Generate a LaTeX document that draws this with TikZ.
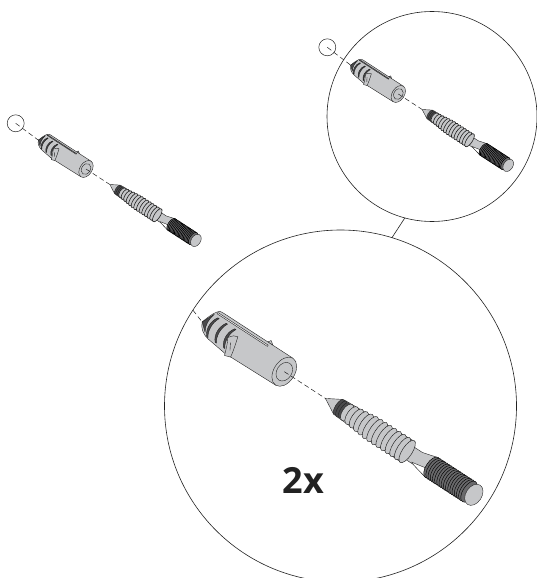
\documentclass[tikz,border=0pt]{standalone}
\usepackage{fontspec}
\newfontfamily\countfont{Open Sans}
\definecolor{partgray}{HTML}{C6C7C9}
\definecolor{ribgray}{HTML}{4A4A4C}
\definecolor{inkgray}{HTML}{222222}
\tikzset{
  partline/.style={draw=inkgray,line width=0.4pt,fill=partgray,line join=round},
  pics/plugscrew/.style={code={
    \coordinate (-rear) at (-96,3);
    \coordinate (-face) at (0,0);
    \coordinate (-tip) at (49,0);
    % plug
    \path[partline] (-30,-16) -- (-28,-19) -- (-24,-16) -- cycle;
    \path[partline] (0,-16) -- (-82,-16) .. controls (-88,-17) and (-91,-13) .. (-96,3)
      .. controls (-94,9) and (-88,13) .. (-82,14) -- (-60,17) -- (0,16) -- cycle;
    \path[partline,fill=ribgray] (-96,3) -- (-90,-10) .. controls (-92,-3) and (-92,4) .. (-88,10) -- cycle;
    \foreach \u in {-85,-75,-65}
      \path[partline,fill=ribgray] (\u,-9) .. controls (\u-5,-2) and (\u-4,8) .. (\u+1,13)
        -- (\u+2.5,13) .. controls (\u-1.5,8) and (\u-2.5,-2) .. (\u+1.5,-9) -- cycle;
    \path[partline,fill=partgray!35] (-88,-13.5) -- (-28,-13.5) -- (-28,-12) -- (-88,-12) -- cycle;
    \path[partline] (-66,2) .. controls (-63,-2) and (-61,-4) .. (-58,-4)
      .. controls (-56,3) and (-54,10) .. (-53,17) -- (-59,19) .. controls (-61,13) and (-63,7) .. (-66,2) -- cycle;
    \draw[inkgray,line width=0.4pt] (-61,5) -- (-57,12);
    \path[partline] (0,0) circle [x radius=10.5,y radius=16];
    \draw[inkgray,line width=0.4pt] (0,0) circle [x radius=7.5,y radius=10];
    % screw
    \path[partline] (49,0) -- (64,-8.5) -- (64,8.5) -- cycle;
    \path[partline] (146,-7.5) -- (160,-7.5) -- (175,-11.5) -- (175,11.5) -- (160,7.5) -- (146,7.5) -- cycle;
    \path[partline,fill=white] (156,6.5) -- (172,3.5) -- (175,11.5) -- (160,8) -- cycle;
    \path[partline] (66,-9) -- (148,-12.5) -- (148,12.5) -- (66,9) -- cycle;
    \foreach \u in {65,68,71}
      \path[partline,fill=ribgray] (\u,0) circle [x radius=3.5,y radius=9];
    \foreach \u in {75,80.5,...,148} {
      \pgfmathsetmacro\threadr{min(13,9.5+(\u-75)*0.12)}
      \path[partline,line width=#1pt] (\u,0) circle [x radius=5,y radius=\threadr];
    }
    \foreach \u in {176,178.6,...,222}
      \path[draw=black,line width=#1pt,fill=ribgray!75!partgray] (\u,0) circle [x radius=6,y radius=12];
    \path[partline] (226,0) circle [x radius=8,y radius=11.5];
  }}
}
\begin{document}
\begin{tikzpicture}[x=1pt,y=-1pt]
\tikzstyle{detail}=[circle,draw=inkgray,line width=0.6pt,inner sep=0pt,outer sep=0pt]
\tikzstyle{hole}=[circle,draw=inkgray,line width=0.5pt,inner sep=0pt,outer sep=0pt,minimum size=17pt]
\tikzstyle{axisline}=[draw=inkgray,line width=0.5pt,dash pattern=on 5pt off 3pt]
\useasboundingbox (0,0) rectangle (537,578);
\clip (0,0) rectangle (537,578);
\node[detail,minimum size=210pt] (topdetail) at (432,116.5) {};
\node[detail,minimum size=352pt] (bigdetail) at (340.5,406) {};
\draw[inkgray,line width=0.6pt] (topdetail.255) -- (bigdetail.73);
\node[hole] (lefthole) at (15.7,123.3) {};
\node[hole] (tophole) at (327.3,47.3) {};
\pic[scale=0.58,rotate=-33] (leftset) at (86,169) {plugscrew=0.6};
\pic[scale=0.58,rotate=-33] (topset) at (398.3,94) {plugscrew=0.6};
\pic[rotate=-33] (bigset) at (284.3,371.7) {plugscrew=0.45};
\draw[axisline] (lefthole.center) -- (leftset-rear);
\draw[axisline] (leftset-face) -- (leftset-tip);
\draw[axisline] (tophole.center) -- (topset-rear);
\draw[axisline] (topset-face) -- (topset-tip);
\draw[axisline] (bigdetail.147) -- (bigset-rear);
\draw[axisline] (bigset-face) -- (bigset-tip);
\node[inkgray,font=\countfont\bfseries\fontsize{36}{36}\selectfont,inner sep=0pt] (count) at (303.5,480) {2x};
\end{tikzpicture}
\end{document}
